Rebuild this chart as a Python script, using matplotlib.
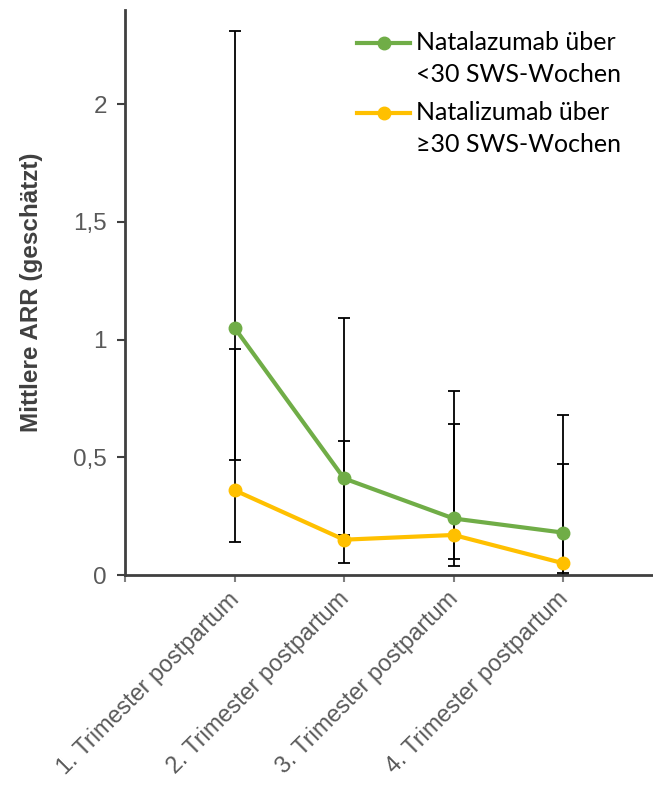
import matplotlib.pyplot as plt
from matplotlib.lines import Line2D
from matplotlib.transforms import ScaledTranslation
import numpy as np

# data
categories = ['1. Trimester postpartum', '2. Trimester postpartum',
              '3. Trimester postpartum', '4. Trimester postpartum']
green_label = 'Natalazumab über\n<30 SWS-Wochen'
yellow_label = 'Natalizumab über\n≥30 SWS-Wochen'

green_mean = [1.05, 0.41, 0.24, 0.18]
green_lo = [0.49, 0.17, 0.07, 0.01]
green_hi = [2.31, 1.09, 0.78, 0.68]

yellow_mean = [0.36, 0.15, 0.17, 0.05]
yellow_lo = [0.14, 0.05, 0.04, 0.0]
yellow_hi = [0.96, 0.57, 0.64, 0.47]

GREEN = '#70AD47'
YELLOW = '#FFC000'
AXIS = '#404040'
TEXT = '#595959'

plt.rcParams['font.family'] = ['Liberation Sans', 'DejaVu Sans']

fig = plt.figure(figsize=(6.53, 7.85), dpi=100)
ax = fig.add_axes([0.1914, 0.2675, 0.8086, 0.72])

xx = np.arange(1, len(categories) + 1)

for mean, lo, hi in [(green_mean, green_lo, green_hi),
                     (yellow_mean, yellow_lo, yellow_hi)]:
    mean = np.array(mean)
    err = [mean - np.array(lo), np.array(hi) - mean]
    ax.errorbar(xx, mean, yerr=err, fmt='none', ecolor='black',
                elinewidth=1.3, capsize=4.5, capthick=1.3, zorder=2)

ax.plot(xx, green_mean, color=GREEN, lw=3, marker='o', ms=9, zorder=3)
ax.plot(xx, yellow_mean, color=YELLOW, lw=3, marker='o', ms=9, zorder=3)

ax.set_xlim(0, 4.82)
ax.set_ylim(0, 2.4)
ax.set_xticks(np.arange(0, 5))
ax.set_xticklabels([''] + categories, rotation=45, ha='right',
                   rotation_mode='anchor', fontsize=16.8, color=TEXT)
ax.set_yticks([0, 0.5, 1, 1.5, 2])
ax.set_yticklabels(['0', '0,5', '1', '1,5', '2'], fontsize=17.5, color=TEXT)
ax.tick_params(axis='x', length=5, width=1.5, color='#808080', pad=4)
ax.tick_params(axis='y', length=6, width=1.5, color=AXIS, pad=7)

# nudge rotated labels a bit left so their end sits on the tick
shift = ScaledTranslation(-0.07, 0, fig.dpi_scale_trans)
for lab in ax.get_xticklabels():
    lab.set_transform(lab.get_transform() + shift)

for side in ['top', 'right']:
    ax.spines[side].set_visible(False)
for side in ['left', 'bottom']:
    ax.spines[side].set_color(AXIS)
    ax.spines[side].set_linewidth(2)

ax.set_ylabel('Mittlere ARR (geschätzt)', fontsize=17.5, fontweight='bold',
              color=AXIS, labelpad=22)

# legend drawn by hand: handle sits at the first text line, wide line spacing
W, H = fig.get_size_inches() * fig.dpi
for label, color, y_handle in [(green_label, GREEN, 43),
                               (yellow_label, YELLOW, 113)]:
    yh = 1 - y_handle / H
    fig.add_artist(Line2D([357 / W, 410 / W], [yh, yh], color=color, lw=3,
                          transform=fig.transFigure))
    fig.add_artist(Line2D([383.5 / W], [yh], color=color, marker='o', ms=9,
                          transform=fig.transFigure))
    fig.text(416 / W, yh + 12 / H, label, ha='left', va='top',
             family=['Lato', 'DejaVu Sans'], fontsize=18, linespacing=1.45,
             color='black')

fig.savefig('out.png', dpi=100)
